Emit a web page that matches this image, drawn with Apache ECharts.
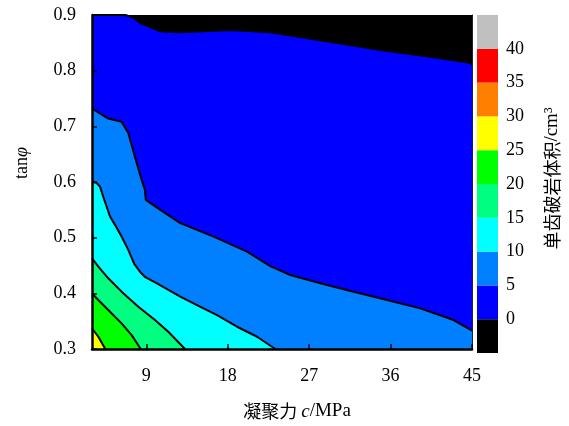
<!DOCTYPE html>
<html><head><meta charset="utf-8">
<script src="https://cdn.jsdelivr.net/npm/echarts@6/dist/echarts.min.js"></script>
<style>html,body{margin:0;padding:0;background:#fff}#c{width:569px;height:426px}</style>
</head><body><div id="c"></div>
<script>
// x tick labels (cohesion c, MPa)
const xTickValues = [9, 18, 27, 36, 45];
// contour boundaries [c, tanφ]
const contour0 = [[3,0.9],[6.7,0.9],[7.6,0.895],[8.3,0.886],[10.5,0.871],[12.8,0.869],[18.3,0.873],[22.7,0.869],[29.3,0.852],[34.9,0.837],[40.4,0.825],[44.8,0.814],[45,0.81]];
const contour5 = [[3,0.732],[4.8,0.714],[6.27,0.708],[6.46,0.705],[7.01,0.688],[7.75,0.645],[8.48,0.604],[8.84,0.586],[8.95,0.568],[10.55,0.55],[12.76,0.526],[16.44,0.502],[20.13,0.475],[22.7,0.449],[24.92,0.433],[28.23,0.418],[31.91,0.403],[35.6,0.388],[39.28,0.373],[42.96,0.352],[45,0.333]];
const contour10 = [[3,0.601],[3.51,0.598],[3.88,0.592],[4.25,0.573],[4.61,0.556],[4.99,0.538],[5.54,0.523],[6.27,0.502],[7.01,0.478],[7.67,0.453],[8.34,0.438],[8.89,0.429],[10.18,0.418],[12.76,0.394],[14.6,0.379],[16.82,0.361],[19.03,0.34],[21.24,0.322],[23.26,0.3]];
const contour15 = [[3,0.463],[3.7,0.448],[4.8,0.427],[6.27,0.403],[8.12,0.376],[9.96,0.352],[11.43,0.331],[13.28,0.3]];
const contour20 = [[3,0.4],[3.7,0.388],[4.8,0.37],[6.27,0.346],[7.38,0.325],[8.39,0.3]];
const contour25 = [[3,0.337],[3.7,0.322],[4.47,0.3]];
const contours = [contour0, contour5, contour10, contour15, contour20, contour25];
const fillColors = ['#0000ff', '#0080ff', '#00ffff', '#00ff80', '#00ff00', '#ffff00'];
// colour bar
const cbTicks = [0, 5, 10, 15, 20, 25, 30, 35, 40];
const cbSegments = [-5, 5, 5, 5, 5, 5, 5, 5, 5, 5];
const cbColors = ['#000000', '#0000ff', '#0080ff', '#00ffff', '#00ff80', '#00ff00', '#ffff00', '#ff8000', '#ff0000', '#c0c0c0'];

const serif = '"Liberation Serif", "Times New Roman", serif';
const cjk = '"Noto Sans CJK SC", sans-serif';

const chart = echarts.init(document.getElementById('c'), null, {renderer: 'canvas'});

const series = contours.map((d, i) => ({
  type: 'line', xAxisIndex: 0, yAxisIndex: 0, data: d,
  showSymbol: false, symbol: 'none', animation: false, z: 2 + i,
  lineStyle: {color: '#000', width: 2},
  areaStyle: {color: fillColors[i], opacity: 1, origin: 'start'}
}));
cbSegments.forEach((v, i) => series.push({
  type: 'bar', xAxisIndex: 1, yAxisIndex: 2, stack: 'cb', data: [v],
  barWidth: '100%', animation: false, itemStyle: {color: cbColors[i]}
}));

chart.setOption({
  animation: false,
  grid: [
    {left: 92, top: 15, right: 97, bottom: 77, show: true, backgroundColor: '#000', borderWidth: 0},
    {left: 477, top: 15, width: 21, bottom: 73}
  ],
  xAxis: [
    {type: 'value', gridIndex: 0, min: 3, max: 45, z: 10,
     name: '{zh|凝聚力 }{it|c}{en|/MPa}', nameLocation: 'middle', nameGap: 53,
     nameTextStyle: {padding: [0, 0, 0, 30], rich: {
       zh: {fontFamily: cjk, fontSize: 18, color: '#000'},
       it: {fontFamily: serif, fontStyle: 'italic', fontSize: 19, color: '#000'},
       en: {fontFamily: serif, fontSize: 19, color: '#000'}}},
     axisLine: {show: true, onZero: false, lineStyle: {color: '#000', width: 2.5}},
     axisTick: {show: true, inside: true, length: 5, customValues: xTickValues, lineStyle: {color: '#000', width: 1.5}},
     axisLabel: {customValues: xTickValues, margin: 18, fontFamily: serif, fontSize: 18, color: '#000'},
     splitLine: {show: false}},
    {type: 'category', gridIndex: 1, data: ['cb'], show: false}
  ],
  yAxis: [
    {type: 'value', gridIndex: 0, min: 0.3, max: 0.9, interval: 0.1, z: 10,
     name: '{en|tan}{it|φ}', nameLocation: 'middle', nameGap: 61,
     nameTextStyle: {padding: [0, 0, 0, 38], rich: {
       en: {fontFamily: serif, fontSize: 18, color: '#000'},
       it: {fontFamily: serif, fontStyle: 'italic', fontSize: 18, color: '#000'}}},
     axisLine: {show: true, onZero: false, lineStyle: {color: '#000', width: 2.5}},
     axisTick: {show: true, inside: true, length: 5, lineStyle: {color: '#000', width: 1.5}},
     axisLabel: {margin: 16, fontFamily: serif, fontSize: 18, color: '#000', formatter: v => v.toFixed(1)},
     splitLine: {show: false}},
    {type: 'value', gridIndex: 0, position: 'right', min: 0.3, max: 0.9, z: 10,
     axisLine: {show: true, onZero: false, lineStyle: {color: '#222', width: 1}},
     axisTick: {show: false}, axisLabel: {show: false}, splitLine: {show: false}},
    {type: 'value', gridIndex: 1, position: 'right', min: -5, max: 45, interval: 5,
     name: '{zh|单齿破岩体积}{en|/cm³}', nameLocation: 'middle', nameGap: 45,
     nameTextStyle: {padding: [0, 0, 0, 11], rich: {
       zh: {fontFamily: cjk, fontSize: 18, color: '#000'},
       en: {fontFamily: serif, fontSize: 19, color: '#000'}}},
     axisLine: {show: false}, axisTick: {show: false}, splitLine: {show: false},
     axisLabel: {margin: 8, fontFamily: serif, fontSize: 18, color: '#000',
       formatter: v => (cbTicks.indexOf(v) >= 0 ? String(v) : '')}}
  ],
  series: series
});
</script></body></html>
